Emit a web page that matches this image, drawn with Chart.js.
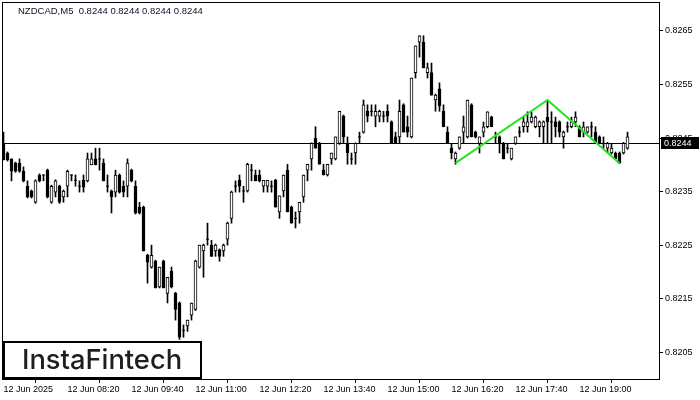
<!DOCTYPE html>
<html>
<head>
<meta charset="utf-8">
<script src="https://cdn.jsdelivr.net/npm/chart.js@4.4.1/dist/chart.umd.min.js"></script>
<style>
  body { margin: 0; background: #fff; }
  canvas { display: block; }
</style>
</head>
<body>
<canvas id="myChart" width="700" height="400"></canvas>
<script>
const symbol = 'NZDCAD,M5';
const lastQuote = [0.8244, 0.8244, 0.8244, 0.8244];
const currentPrice = 0.8244;

const opens = [
  0.82440, 0.82422, 0.82411, 0.82403, 0.82403, 0.82388, 0.82360, 0.82351, 0.82330, 0.82381,
  0.82381, 0.82390, 0.82330, 0.82349, 0.82360, 0.82340, 0.82360, 0.82381, 0.82371, 0.82360,
  0.82371, 0.82370, 0.82400, 0.82411, 0.82411, 0.82403, 0.82360, 0.82351, 0.82349, 0.82381,
  0.82360, 0.82360, 0.82390, 0.82360, 0.82321, 0.82321, 0.82231, 0.82209, 0.82220, 0.82172,
  0.82220, 0.82160, 0.82201, 0.82160, 0.82142, 0.82091, 0.82099, 0.82119, 0.82130, 0.82209,
  0.82239, 0.82261, 0.82250, 0.82239, 0.82241, 0.82239, 0.82261, 0.82300, 0.82360, 0.82371,
  0.82351, 0.82351, 0.82390, 0.82381, 0.82381, 0.82360, 0.82360, 0.82360, 0.82371, 0.82312,
  0.82351, 0.82390, 0.82321, 0.82300, 0.82312, 0.82340, 0.82390, 0.82411, 0.82450, 0.82440,
  0.82390, 0.82381, 0.82411, 0.82411, 0.82440, 0.82491, 0.82440, 0.82411, 0.82422, 0.82452,
  0.82461, 0.82500, 0.82500, 0.82491, 0.82491, 0.82491, 0.82500, 0.82480, 0.82452, 0.82452,
  0.82512, 0.82471, 0.82452, 0.82572, 0.82629, 0.82629, 0.82572, 0.82572, 0.82521, 0.82542,
  0.82500, 0.82461, 0.82431, 0.82411, 0.82431, 0.82461, 0.82452, 0.82512, 0.82461, 0.82440,
  0.82461, 0.82471, 0.82489, 0.82452, 0.82452, 0.82440, 0.82431, 0.82411, 0.82440, 0.82461,
  0.82471, 0.82471, 0.82480, 0.82471, 0.82471, 0.82471, 0.82489, 0.82480, 0.82480, 0.82480,
  0.82452, 0.82471, 0.82471, 0.82480, 0.82471, 0.82461, 0.82461, 0.82471, 0.82461, 0.82452,
  0.82440, 0.82431, 0.82422, 0.82422, 0.82422, 0.82422, 0.82431
];
const highs = [
  0.82461, 0.82424, 0.82411, 0.82405, 0.82411, 0.82396, 0.82370, 0.82353, 0.82372, 0.82383,
  0.82381, 0.82392, 0.82362, 0.82372, 0.82362, 0.82353, 0.82390, 0.82381, 0.82381, 0.82370,
  0.82381, 0.82422, 0.82422, 0.82431, 0.82431, 0.82411, 0.82381, 0.82353, 0.82390, 0.82383,
  0.82370, 0.82411, 0.82392, 0.82370, 0.82330, 0.82323, 0.82233, 0.82250, 0.82222, 0.82209,
  0.82222, 0.82190, 0.82209, 0.82162, 0.82144, 0.82101, 0.82110, 0.82142, 0.82222, 0.82250,
  0.82252, 0.82291, 0.82259, 0.82252, 0.82243, 0.82252, 0.82293, 0.82351, 0.82370, 0.82381,
  0.82360, 0.82403, 0.82401, 0.82390, 0.82390, 0.82371, 0.82371, 0.82370, 0.82373, 0.82342,
  0.82381, 0.82401, 0.82323, 0.82312, 0.82330, 0.82381, 0.82401, 0.82441, 0.82471, 0.82442,
  0.82401, 0.82401, 0.82422, 0.82452, 0.82500, 0.82493, 0.82452, 0.82422, 0.82441, 0.82461,
  0.82521, 0.82512, 0.82512, 0.82512, 0.82502, 0.82500, 0.82512, 0.82482, 0.82461, 0.82521,
  0.82514, 0.82491, 0.82562, 0.82622, 0.82641, 0.82641, 0.82590, 0.82590, 0.82532, 0.82553,
  0.82512, 0.82471, 0.82440, 0.82424, 0.82452, 0.82491, 0.82521, 0.82514, 0.82463, 0.82452,
  0.82480, 0.82499, 0.82491, 0.82461, 0.82454, 0.82442, 0.82440, 0.82431, 0.82452, 0.82471,
  0.82489, 0.82499, 0.82499, 0.82491, 0.82482, 0.82482, 0.82521, 0.82499, 0.82489, 0.82482,
  0.82463, 0.82480, 0.82489, 0.82499, 0.82473, 0.82480, 0.82471, 0.82480, 0.82471, 0.82454,
  0.82452, 0.82442, 0.82440, 0.82424, 0.82424, 0.82442, 0.82461
];
const lows = [
  0.82409, 0.82407, 0.82370, 0.82386, 0.82386, 0.82368, 0.82338, 0.82338, 0.82328, 0.82368,
  0.82370, 0.82338, 0.82328, 0.82340, 0.82328, 0.82330, 0.82340, 0.82370, 0.82360, 0.82349,
  0.82349, 0.82368, 0.82400, 0.82400, 0.82390, 0.82370, 0.82349, 0.82310, 0.82340, 0.82347,
  0.82340, 0.82340, 0.82368, 0.82308, 0.82308, 0.82239, 0.82179, 0.82207, 0.82170, 0.82170,
  0.82170, 0.82142, 0.82170, 0.82110, 0.82074, 0.82078, 0.82089, 0.82110, 0.82128, 0.82207,
  0.82190, 0.82250, 0.82229, 0.82229, 0.82220, 0.82229, 0.82250, 0.82291, 0.82349, 0.82349,
  0.82330, 0.82349, 0.82370, 0.82370, 0.82368, 0.82349, 0.82349, 0.82349, 0.82321, 0.82300,
  0.82340, 0.82312, 0.82291, 0.82282, 0.82291, 0.82330, 0.82370, 0.82390, 0.82431, 0.82401,
  0.82381, 0.82379, 0.82401, 0.82409, 0.82438, 0.82440, 0.82401, 0.82401, 0.82401, 0.82440,
  0.82459, 0.82480, 0.82491, 0.82471, 0.82480, 0.82480, 0.82480, 0.82440, 0.82440, 0.82440,
  0.82461, 0.82452, 0.82450, 0.82562, 0.82601, 0.82581, 0.82562, 0.82530, 0.82500, 0.82500,
  0.82471, 0.82440, 0.82411, 0.82401, 0.82429, 0.82440, 0.82450, 0.82452, 0.82450, 0.82422,
  0.82452, 0.82469, 0.82471, 0.82440, 0.82422, 0.82411, 0.82422, 0.82409, 0.82438, 0.82452,
  0.82461, 0.82461, 0.82478, 0.82469, 0.82452, 0.82440, 0.82440, 0.82440, 0.82452, 0.82452,
  0.82431, 0.82461, 0.82469, 0.82471, 0.82452, 0.82452, 0.82459, 0.82452, 0.82440, 0.82440,
  0.82431, 0.82422, 0.82420, 0.82411, 0.82403, 0.82420, 0.82429
];
const closes = [
  0.82409, 0.82409, 0.82388, 0.82388, 0.82388, 0.82370, 0.82340, 0.82340, 0.82370, 0.82370,
  0.82381, 0.82340, 0.82360, 0.82370, 0.82330, 0.82351, 0.82388, 0.82381, 0.82371, 0.82360,
  0.82358, 0.82411, 0.82411, 0.82400, 0.82411, 0.82370, 0.82360, 0.82340, 0.82381, 0.82349,
  0.82349, 0.82403, 0.82370, 0.82310, 0.82310, 0.82239, 0.82218, 0.82231, 0.82170, 0.82209,
  0.82170, 0.82190, 0.82172, 0.82130, 0.82078, 0.82091, 0.82110, 0.82142, 0.82220, 0.82250,
  0.82250, 0.82261, 0.82229, 0.82250, 0.82229, 0.82250, 0.82291, 0.82349, 0.82360, 0.82360,
  0.82351, 0.82401, 0.82390, 0.82370, 0.82370, 0.82371, 0.82371, 0.82360, 0.82321, 0.82342,
  0.82381, 0.82312, 0.82291, 0.82300, 0.82330, 0.82381, 0.82401, 0.82440, 0.82431, 0.82401,
  0.82381, 0.82401, 0.82422, 0.82452, 0.82500, 0.82452, 0.82422, 0.82411, 0.82440, 0.82452,
  0.82512, 0.82491, 0.82500, 0.82500, 0.82500, 0.82491, 0.82491, 0.82440, 0.82440, 0.82500,
  0.82461, 0.82461, 0.82562, 0.82622, 0.82641, 0.82581, 0.82581, 0.82530, 0.82530, 0.82510,
  0.82471, 0.82440, 0.82422, 0.82422, 0.82452, 0.82471, 0.82521, 0.82452, 0.82452, 0.82452,
  0.82471, 0.82499, 0.82471, 0.82452, 0.82440, 0.82411, 0.82431, 0.82431, 0.82452, 0.82461,
  0.82480, 0.82480, 0.82489, 0.82489, 0.82480, 0.82480, 0.82480, 0.82480, 0.82471, 0.82461,
  0.82461, 0.82471, 0.82480, 0.82489, 0.82452, 0.82471, 0.82471, 0.82471, 0.82440, 0.82440,
  0.82440, 0.82440, 0.82431, 0.82411, 0.82403, 0.82440, 0.82452
];

const xTickPos = [0, 16, 32, 48, 64, 80, 96, 112, 128, 144];
const xTickLabels = ['12 Jun 2025', '12 Jun 08:20', '12 Jun 09:40', '12 Jun 11:00', '12 Jun 12:20',
  '12 Jun 13:40', '12 Jun 15:00', '12 Jun 16:20', '12 Jun 17:40', '12 Jun 19:00'];
const yTicks = [0.8205, 0.8215, 0.8225, 0.8235, 0.8245, 0.8255, 0.8265];

// double top pattern
const patternX = [113, 136, 154];
const patternY = [0.82403, 0.82521, 0.82403];

const labelFont = { family: 'Liberation Sans', size: 9 };

const wicks = highs.map((h, i) => ({ x: i, y: [lows[i], h] }));
const bodies = opens.map((o, i) => ({ x: i, y: o === closes[i] ? null : [o, closes[i]] }));
const dojis = opens.map((o, i) => ({ x: i, y: o === closes[i] ? o : null }));
const bodyFill = opens.map((o, i) => closes[i] >= o ? '#ffffff' : '#000000');

const decor = {
    id: 'decor',
    beforeDatasetsDraw(chart) {
        const { ctx, chartArea, scales } = chart;
        const y = Math.round(scales.y.getPixelForValue(currentPrice)) + 0.5;
        ctx.save();
        ctx.strokeStyle = '#000';
        ctx.lineWidth = 1;
        ctx.beginPath();
        ctx.moveTo(chartArea.left, y);
        ctx.lineTo(chartArea.right, y);
        ctx.stroke();
        ctx.restore();
    },
    afterDraw(chart) {
        const { ctx, chartArea, scales } = chart;
        ctx.save();
        // frame
        ctx.strokeStyle = '#000';
        ctx.lineWidth = 1;
        ctx.strokeRect(chartArea.left - 0.5, Math.round(chartArea.top) + 0.5, chartArea.right - chartArea.left + 1, chartArea.bottom - chartArea.top);

        // title
        ctx.fillStyle = '#10102a';
        ctx.font = '9.5px "Liberation Sans"';
        ctx.textBaseline = 'middle';
        ctx.textAlign = 'left';
        ctx.fillText(symbol + '  ' + lastQuote.map(v => v.toFixed(4)).join(' '), 18, 11);

        // price label on axis
        ctx.font = '9px "Liberation Sans"';
        const py = scales.y.getPixelForValue(currentPrice);
        ctx.fillStyle = '#000';
        ctx.fillRect(chartArea.right + 2, Math.round(py) - 6, 38, 12);
        ctx.fillStyle = '#fff';
        ctx.fillText(currentPrice.toFixed(4), chartArea.right + 5, Math.round(py) + 0.5);

        // logo box
        const bx = chartArea.left, bw = 198, bh = 37, by = chartArea.bottom - 38;
        ctx.fillStyle = '#fff';
        ctx.fillRect(bx, by, bw, bh);
        ctx.lineWidth = 2;
        ctx.strokeStyle = '#000';
        ctx.strokeRect(bx + 1, by + 1, bw - 1, bh - 1);
        const txt = 'InstaFintech';
        ctx.font = '500 28px Inter';
        const w = ctx.measureText(txt).width;
        const fs = 28 * 160 / w;
        ctx.font = '500 ' + fs.toFixed(1) + 'px Inter';
        ctx.fillStyle = '#1e1e1e';
        ctx.textAlign = 'center';
        ctx.fillText(txt, bx + bw / 2, by + bh / 2 + 1);
        ctx.restore();
    }
};

const ctx = document.getElementById('myChart').getContext('2d');
const myChart = new Chart(ctx, {
    type: 'bar',
    data: {
        datasets: [
            {
                label: 'pattern',
                type: 'line',
                data: patternX.map((x, i) => ({ x, y: patternY[i] })),
                borderColor: '#22e522',
                borderWidth: 2,
                pointRadius: 0,
                order: 0
            },
            {
                label: 'doji',
                type: 'line',
                data: dojis,
                showLine: false,
                pointStyle: 'line',
                pointRadius: 1.5,
                borderColor: '#000',
                borderWidth: 1,
                order: 1
            },
            {
                label: 'body',
                data: bodies,
                backgroundColor: bodyFill,
                borderColor: '#000',
                borderWidth: 1,
                borderSkipped: false,
                barThickness: 3,
                grouped: false,
                order: 2
            },
            {
                label: 'wick',
                data: wicks,
                backgroundColor: '#000',
                borderWidth: 0,
                barThickness: 1,
                grouped: false,
                order: 3
            }
        ]
    },
    options: {
        responsive: false,
        animation: false,
        events: [],
        layout: { autoPadding: false, padding: { left: 3, top: 2, right: 0, bottom: 0 } },
        plugins: { legend: { display: false }, tooltip: { enabled: false } },
        scales: {
            x: {
                type: 'linear',
                min: -0.125,
                max: 163.875,
                offset: false,
                grid: { drawOnChartArea: false, drawTicks: true, tickLength: 4, color: '#000' },
                border: { display: true, color: '#000' },
                afterBuildTicks: (scale) => { scale.ticks = xTickPos.map(v => ({ value: v })); },
                afterFit: (scale) => { scale.height = 21; scale.paddingLeft = 0; scale.paddingRight = 0; },
                ticks: {
                    autoSkip: false,
                    maxRotation: 0,
                    align: 'start',
                    padding: 1,
                    color: '#000',
                    font: labelFont,
                    callback: (v, idx) => xTickLabels[idx]
                }
            },
            y: {
                type: 'linear',
                position: 'right',
                min: 0.82,
                max: 0.82704,
                grid: { drawOnChartArea: false, drawTicks: true, tickLength: 4, color: '#000' },
                border: { display: true, color: '#000' },
                afterBuildTicks: (scale) => { scale.ticks = yTicks.map(v => ({ value: v })); },
                afterFit: (scale) => { scale.width = 41; scale.paddingTop = 0; scale.paddingBottom = 0; },
                ticks: {
                    padding: 2,
                    color: '#000',
                    font: labelFont,
                    callback: (v) => v.toFixed(4)
                }
            }
        }
    },
    plugins: [decor]
});
</script>
</body>
</html>
